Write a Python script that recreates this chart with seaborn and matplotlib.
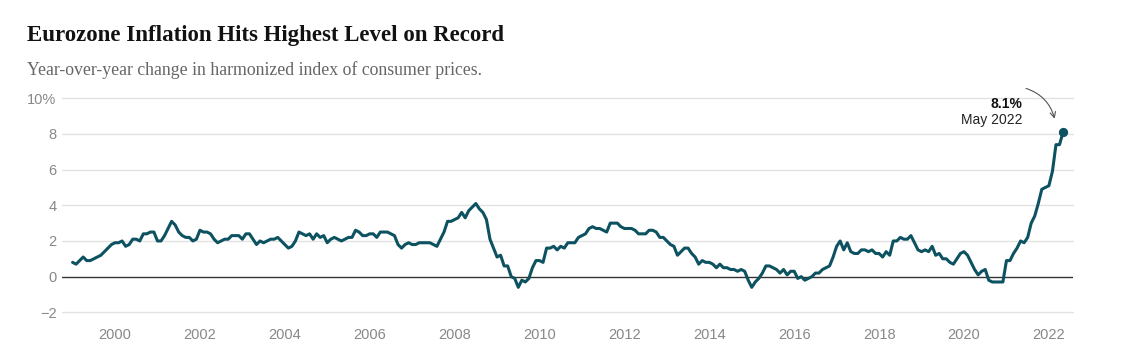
import numpy as np
import pandas as pd
import matplotlib.pyplot as plt
import seaborn as sns

sns.set_style("white")
plt.rcParams['font.family'] = ['Liberation Sans', 'DejaVu Sans']

# Eurozone HICP, year-over-year change (%), monthly Jan 1999 - May 2022
hicp_1999_2005 = [
    0.8, 0.7, 0.9, 1.1, 0.9, 0.9, 1.0, 1.1, 1.2, 1.4, 1.6, 1.8,   # 1999
    1.9, 1.9, 2.0, 1.7, 1.8, 2.1, 2.1, 2.0, 2.4, 2.4, 2.5, 2.5,   # 2000
    2.0, 2.0, 2.3, 2.7, 3.1, 2.9, 2.5, 2.3, 2.2, 2.2, 2.0, 2.1,   # 2001
    2.6, 2.5, 2.5, 2.4, 2.1, 1.9, 2.0, 2.1, 2.1, 2.3, 2.3, 2.3,   # 2002
    2.1, 2.4, 2.4, 2.1, 1.8, 2.0, 1.9, 2.0, 2.1, 2.1, 2.2, 2.0,   # 2003
    1.8, 1.6, 1.7, 2.0, 2.5, 2.4, 2.3, 2.4, 2.1, 2.4, 2.2, 2.3,   # 2004
    1.9, 2.1, 2.2, 2.1, 2.0, 2.1, 2.2, 2.2, 2.6, 2.5, 2.3, 2.3,   # 2005
]
hicp_2006_2013 = [
    2.4, 2.4, 2.2, 2.5, 2.5, 2.5, 2.4, 2.3, 1.8, 1.6, 1.8, 1.9,   # 2006
    1.8, 1.8, 1.9, 1.9, 1.9, 1.9, 1.8, 1.7, 2.1, 2.5, 3.1, 3.1,   # 2007
    3.2, 3.3, 3.6, 3.3, 3.7, 3.9, 4.1, 3.8, 3.6, 3.2, 2.1, 1.6,   # 2008
    1.1, 1.2, 0.6, 0.6, 0.0, -0.1, -0.6, -0.2, -0.3, -0.1, 0.5, 0.9,  # 2009
    0.9, 0.8, 1.6, 1.6, 1.7, 1.5, 1.7, 1.6, 1.9, 1.9, 1.9, 2.2,   # 2010
    2.3, 2.4, 2.7, 2.8, 2.7, 2.7, 2.6, 2.5, 3.0, 3.0, 3.0, 2.8,   # 2011
    2.7, 2.7, 2.7, 2.6, 2.4, 2.4, 2.4, 2.6, 2.6, 2.5, 2.2, 2.2,   # 2012
    2.0, 1.8, 1.7, 1.2, 1.4, 1.6, 1.6, 1.3, 1.1, 0.7, 0.9, 0.8,   # 2013
]
hicp_2014_2022 = [
    0.8, 0.7, 0.5, 0.7, 0.5, 0.5, 0.4, 0.4, 0.3, 0.4, 0.3, -0.2,  # 2014
    -0.6, -0.3, -0.1, 0.2, 0.6, 0.6, 0.5, 0.4, 0.2, 0.4, 0.1, 0.3,  # 2015
    0.3, -0.1, 0.0, -0.2, -0.1, 0.0, 0.2, 0.2, 0.4, 0.5, 0.6, 1.1,  # 2016
    1.7, 2.0, 1.5, 1.9, 1.4, 1.3, 1.3, 1.5, 1.5, 1.4, 1.5, 1.3,   # 2017
    1.3, 1.1, 1.4, 1.2, 2.0, 2.0, 2.2, 2.1, 2.1, 2.3, 1.9, 1.5,   # 2018
    1.4, 1.5, 1.4, 1.7, 1.2, 1.3, 1.0, 1.0, 0.8, 0.7, 1.0, 1.3,   # 2019
    1.4, 1.2, 0.8, 0.4, 0.1, 0.3, 0.4, -0.2, -0.3, -0.3, -0.3, -0.3,  # 2020
    0.9, 0.9, 1.3, 1.6, 2.0, 1.9, 2.2, 3.0, 3.4, 4.1, 4.9, 5.0,   # 2021
    5.1, 5.9, 7.4, 7.4, 8.1,                                      # 2022
]
values = hicp_1999_2005 + hicp_2006_2013 + hicp_2014_2022
dates = pd.date_range("1999-01-01", periods=len(values), freq="MS")

y_ticks = [-2, 0, 2, 4, 6, 8, 10]
y_labels = ["\u22122", "0", "2", "4", "6", "8", "10%"]
x_ticks = list(range(2000, 2023, 2))

df = pd.DataFrame({"date": dates, "value": values})
df["t"] = df["date"].dt.year + (df["date"].dt.month - 1) / 12

line_color = "#0d5260"

fig = plt.figure(figsize=(11.45, 3.53), dpi=100)
ax = fig.add_axes([62 / 1145, 1 - 312.3 / 353, (1073 - 62) / 1145, (312.3 - 98.3) / 353])

# horizontal grid, zero line darker
for y in y_ticks:
    if y != 0:
        ax.axhline(y, color="#e2e2e2", lw=1, zorder=0, clip_on=False)
ax.axhline(0, color="#333333", lw=1, zorder=1)

sns.lineplot(data=df, x="t", y="value", color=line_color, lw=2.2, ax=ax, zorder=3)
last = df.iloc[-1]
ax.scatter([last["t"]], [last["value"]], s=32, color=line_color, zorder=4)

ax.set_xlim(1998.751, 2022.568)
ax.set_ylim(-2, 10)
ax.set_yticks(y_ticks)
ax.set_yticklabels(y_labels)
ax.set_xticks(x_ticks)
ax.set_xticklabels([str(x) for x in x_ticks])
ax.set_xlabel("")
ax.set_ylabel("")
for s in ax.spines.values():
    s.set_visible(False)
ax.tick_params(axis="y", length=0, pad=4, labelsize=10.5, labelcolor="#888888")
ax.tick_params(axis="x", length=5, width=1, color="#333333", pad=6,
               labelsize=10.5, labelcolor="#888888", direction="out")

# annotation for latest value
ax.text(2021.37, 9.7, "8.1%", ha="right", va="center", fontsize=10,
        fontweight="bold", color="#111111")
ax.text(2021.37, 8.8, "May 2022", ha="right", va="center", fontsize=10,
        color="#222222")
ax.annotate("", xy=(2022.15, 8.7), xytext=(2021.4, 10.6),
            arrowprops=dict(arrowstyle="->", color="#555555", lw=0.8,
                            connectionstyle="arc3,rad=-0.3"),
            annotation_clip=False)

fig.text(27 / 1145, 1 - 36 / 353, "Eurozone Inflation Hits Highest Level on Record",
         fontsize=16.5, fontweight="bold", family=["Liberation Serif", "DejaVu Serif"],
         color="#121212", va="center", ha="left")
fig.text(27 / 1145, 1 - 70 / 353, "Year-over-year change in harmonized index of consumer prices.",
         fontsize=12.8, family=["Liberation Serif", "DejaVu Serif"],
         color="#666666", va="center", ha="left")

plt.savefig("out.png", dpi=100)
plt.close()
